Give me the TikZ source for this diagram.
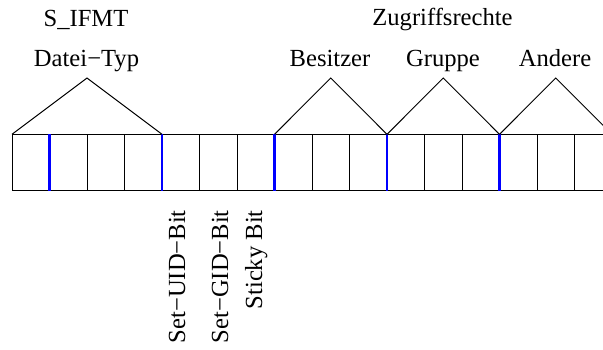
\documentclass[tikz,border=0pt]{standalone}
\usepackage{fontspec}
\setmainfont{Liberation Serif}
\begin{document}
\begin{tikzpicture}[x=1pt,y=-1pt,
  lbl/.style={inner sep=0pt,anchor=base,font=\fontsize{24.6}{28}\selectfont},
  vlbl/.style={inner sep=0pt,anchor=base east,rotate=90,font=\fontsize{24.6}{28}\selectfont},
  cellline/.style={draw=black,line width=1pt},
  sepline/.style={draw=blue,line width=2.2pt},
  roof/.style={draw=black,line width=1pt}]
\useasboundingbox (0,0) rectangle (603,349);
\clip (0,0) rectangle (603,349);
% cell boundaries
\foreach \i in {0,...,16} {
  \coordinate (t\i) at ({12+37.5*\i},134.3);
  \coordinate (u\i) at ({12+37.5*\i},190.7);
}
% outer lines
\draw[cellline] (t0) -- (t16);
\draw[cellline] (u0) -- (u16);
\foreach \i in {0,2,3,5,6,8,9,11,12,14,15} {
  \draw[cellline] (t\i) -- (u\i);
}
\foreach \i in {1,4,7,10,13} {
  \draw[sepline] (t\i) -- (u\i);
}
% roofs
\coordinate (a1) at (87,78);
\coordinate (a2) at (330.75,78);
\coordinate (a3) at (443.25,78);
\coordinate (a4) at (555.75,78);
\draw[roof] (t0) -- (a1) -- (t4);
\draw[roof] (t7) -- (a2) -- (t10);
\draw[roof] (t10) -- (a3) -- (t13);
\draw[roof] (t13) -- (a4) -- (t16);
% labels
\node[lbl] (ifmt) at (86,26) {S\_IFMT};
\node[lbl] (typ) at (86.5,66) {Datei−Typ};
\node[lbl] (zug) at (442.5,25) {Zugriffsrechte};
\node[lbl] (bes) at (330,66) {Besitzer};
\node[lbl] (grp) at (443,66) {Gruppe};
\node[lbl] (and) at (555,66) {Andere};
\node[vlbl] (suid) at (185,210) {Set−UID−Bit};
\node[vlbl] (sgid) at (228,210) {Set−GID−Bit};
\node[vlbl] (sticky) at (262,210) {Sticky Bit};
\end{tikzpicture}
\end{document}
